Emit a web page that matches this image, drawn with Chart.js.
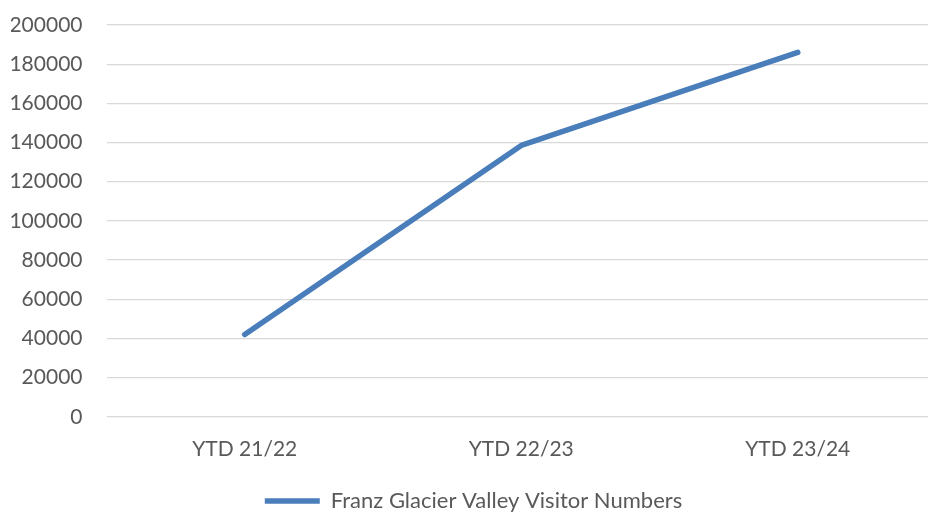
<!DOCTYPE html>
<html>
<head>
<meta charset="utf-8">
<script src="https://cdn.jsdelivr.net/npm/chart.js@4"></script>
<style>
  html, body { margin: 0; padding: 0; background: #fff; overflow: hidden; }
  #wrap { width: 936px; height: 514px; }
</style>
</head>
<body>
<div id="wrap"><canvas id="visitorChart"></canvas></div>
<script>
const seasons = ["YTD 21/22", "YTD 22/23", "YTD 23/24"];
const visitors = [42000, 138500, 186000];
const seriesName = "Franz Glacier Valley Visitor Numbers";

const textGrey = "#595959";
const lineBlue = "#4A7EBB";
const fontFamily = "Lato, 'Liberation Sans', sans-serif";

new Chart(document.getElementById("visitorChart"), {
    type: "line",
    data: {
        labels: seasons,
        datasets: [{
            label: seriesName,
            data: visitors,
            borderColor: lineBlue,
            backgroundColor: lineBlue,
            borderWidth: 5.5,
            borderCapStyle: "round",
            borderJoinStyle: "round",
            pointRadius: 0,
            tension: 0
        }]
    },
    options: {
        responsive: true,
        maintainAspectRatio: false,
        animation: false,
        layout: { padding: { left: 11, top: 25, right: 0, bottom: -8 } },
        scales: {
            x: {
                offset: true,
                grid: { display: false, drawTicks: false },
                border: { display: false },
                ticks: {
                    color: textGrey,
                    padding: 20,
                    font: { family: fontFamily, size: 21 }
                }
            },
            y: {
                min: 0,
                max: 200000,
                // invisible tick marks give the gap between labels and grid
                grid: { color: "#D9D9D9", lineWidth: 1.3, drawTicks: true, tickLength: 24, tickColor: "rgba(0,0,0,0)" },
                border: { display: false },
                afterFit: scale => { scale.width = 95.5; },
                ticks: {
                    stepSize: 20000,
                    color: textGrey,
                    padding: 0,
                    font: { family: fontFamily, size: 21 },
                    callback: v => String(v)
                }
            }
        },
        plugins: {
            legend: {
                position: "bottom",
                labels: {
                    usePointStyle: true,
                    pointStyle: "line",
                    pointStyleWidth: 55,
                    color: textGrey,
                    padding: 8,
                    font: { family: fontFamily, size: 22 }
                }
            },
            tooltip: { enabled: false }
        }
    }
});
</script>
</body>
</html>
